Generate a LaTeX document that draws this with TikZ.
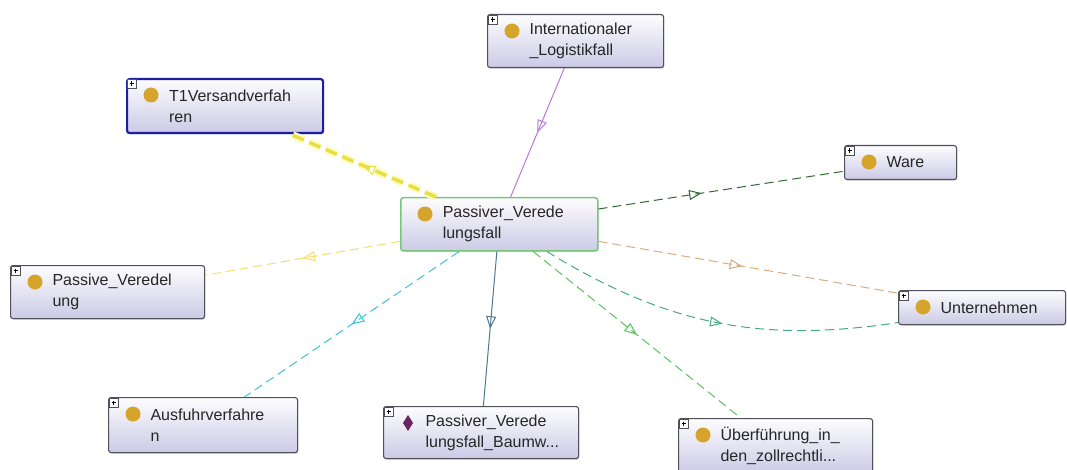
\documentclass[tikz,border=0pt]{standalone}
\usepackage{fontspec}
\setmainfont{Liberation Sans}
\usetikzlibrary{arrows.meta,decorations.markings,shadows}

\definecolor{clsfill}{RGB}{204,202,230}
\definecolor{clsdraw}{RGB}{80,80,90}
\definecolor{dotgold}{RGB}{214,164,42}
\definecolor{indivpurple}{RGB}{105,35,95}
\definecolor{focusgreen}{RGB}{120,200,120}
\definecolor{selblue}{RGB}{30,30,160}
\definecolor{eviolet}{RGB}{185,120,215}
\definecolor{eyellow}{RGB}{232,222,70}
\definecolor{epale}{RGB}{240,225,110}
\definecolor{edkgreen}{RGB}{50,105,50}
\definecolor{etan}{RGB}{220,170,125}
\definecolor{eteal}{RGB}{70,170,130}
\definecolor{egreen}{RGB}{90,195,90}
\definecolor{esteel}{RGB}{80,120,145}
\definecolor{ecyan}{RGB}{60,195,215}

\tikzset{
  cls/.style={draw=clsdraw,line width=1.1pt,rounded corners=2.5pt,
    top color=white!96!clsfill,bottom color=clsfill,anchor=north west,
    inner xsep=4pt,inner ysep=2pt,align=left,text=black!85,
    font=\fontsize{16}{21}\selectfont,
    execute at begin node={\leftskip=38pt},
    drop shadow={shadow xshift=.8pt,shadow yshift=-1.2pt,opacity=.3}},
  focus/.style={draw=focusgreen,line width=1.5pt},
  selected/.style={draw=selblue,line width=2.2pt},
  plain/.style={line width=1pt},
  rel/.style={line width=1pt,dash pattern=on 9pt off 5pt},
  midtip/.style={postaction={decorate},decoration={markings,
    mark=at position #1 with {\arrow{Triangle[open,length=12.5pt,width=10pt,line width=1pt]}}}},
  midtip/.default=0.5
}

\begin{document}
\begin{tikzpicture}[x=1pt,y=-1pt]
  % CANVAS
  \fill[white] (0,0) rectangle (1067,470);
  \useasboundingbox (0,0) rectangle (1067,470);

  \def\cls#1#2#3#4#5#6{\node[cls,#1,minimum width=#4pt,minimum height=#5pt,text width=#4pt-8pt] (#2) at (#3) {#6};}
  \def\plusbox#1{%
    \draw[clsdraw,fill=white,line width=.6pt] ([shift={(1.5pt,-1.5pt)}]#1.north west) rectangle ++(8.5pt,-8.5pt);
    \draw[black,line width=1pt] ([shift={(3.5pt,-5.75pt)}]#1.north west) -- ++(4.5pt,0pt)
      ([shift={(5.75pt,-3.5pt)}]#1.north west) -- ++(0pt,-4.5pt);}
  \def\classdot#1{\fill[dotgold] ([shift={(25pt,-17pt)}]#1.north west) circle (7.5pt);}

  % CLASSES
  \cls{}{IL}{487,14}{176}{53}{Internationaler\\\_Logistikfall}
  \cls{selected}{T1}{126,78}{196}{54}{T1Versandverfah\\ren}
  \cls{focus}{PV}{400,197}{197}{53}{Passiver\_Verede\\lungsfall}
  \cls{}{W}{844,145}{112}{34}{Ware}
  \cls{}{PVE}{10,265}{194}{53}{Passive\_Veredel\\ung}
  \cls{}{U}{898,290}{167}{34}{Unternehmen}
  \cls{}{AV}{108,397}{189}{55}{Ausfuhrverfahre\\n}
  \cls{}{PVB}{383,406}{195}{52}{Passiver\_Verede\\lungsfall\_Baumw...}
  \cls{}{UE}{678,418}{194}{55}{Überführung\_in\_\\den\_zollrechtli...}

  % ICONS
  \foreach \n in {IL,T1,W,PVE,U,AV,PVB,UE} {\plusbox{\n}}
  \foreach \n in {IL,T1,PV,W,PVE,U,AV,UE} {\classdot{\n}}
  \fill[indivpurple] ([shift={(25pt,-9pt)}]PVB.north west) -- ++(5pt,-8pt) -- ++(-5pt,-8pt) -- ++(-5pt,8pt) -- cycle;

  % RELATIONS
  \draw[plain,eviolet,midtip] (IL) -- (PV);
  \draw[yellow!25,line width=8pt,dash pattern=on 12pt off 6pt] (PV) -- (T1);
  \draw[eyellow,line width=3.5pt,dash pattern=on 12pt off 6pt,midtip] (PV) -- (T1);
  \draw[rel,epale,midtip] (PV) -- (PVE);
  \draw[rel,ecyan,midtip] (PV) -- (AV);
  \draw[plain,esteel,midtip] (PV) -- (PVB);
  \draw[rel,egreen,midtip] (PV) -- (UE);
  \draw[rel,edkgreen,midtip=.42] (PV) -- (W);
  \draw[rel,etan,midtip=.48] (PV) -- (U);
  \draw[rel,eteal,midtip=.52] (PV) to[bend right=20] (U);
\end{tikzpicture}
\end{document}
